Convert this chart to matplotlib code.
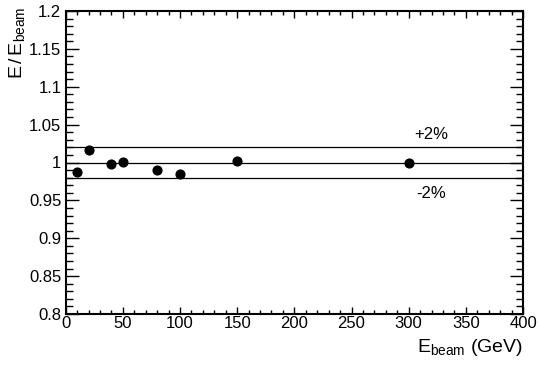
import matplotlib
matplotlib.use("Agg")
import matplotlib.pyplot as plt
from matplotlib.ticker import MultipleLocator, FuncFormatter

plt.rcParams['font.family'] = ['Liberation Sans', 'DejaVu Sans']
plt.rcParams['mathtext.fontset'] = 'custom'
plt.rcParams['mathtext.rm'] = 'Liberation Sans'
plt.rcParams['mathtext.it'] = 'Liberation Sans:italic'

# data
e_beam = [10, 20, 40, 50, 80, 100, 150, 300]
ratio = [0.988, 1.016, 0.9986, 1.0004, 0.9906, 0.9854, 1.0017, 0.9987]
ref_levels = [1.02, 1.0, 0.98]
band_labels = ['+2%', '-2%']
band_label_x = [320, 320]
band_label_y = [1.037, 0.959]

fig = plt.figure(figsize=(5.4, 3.65), dpi=100)
ax = fig.add_axes([65.7/540, 1 - 314/365, (523 - 65.7)/540, (314 - 11)/365])

ax.set_xlim(0, 400)
ax.set_ylim(0.8, 1.2)

for lv in ref_levels:
    ax.plot([0, 400], [lv, lv], color='black', lw=0.9, zorder=2)

ax.plot(e_beam, ratio, 'o', color='black', markersize=6.3, zorder=3)

for t, x, y in zip(band_labels, band_label_x, band_label_y):
    ax.text(x, y, t, ha='center', va='center', fontsize=12)

ax.xaxis.set_major_locator(MultipleLocator(50))
ax.xaxis.set_minor_locator(MultipleLocator(10))
ax.yaxis.set_major_locator(MultipleLocator(0.05))
ax.yaxis.set_minor_locator(MultipleLocator(0.01))
ax.yaxis.set_major_formatter(FuncFormatter(lambda v, p: '%g' % round(v, 3)))
ax.xaxis.set_major_formatter(FuncFormatter(lambda v, p: '%g' % v))

ax.tick_params(axis='both', which='both', direction='in', top=True, right=True,
               labelsize=12, width=1.0, colors='black')
ax.tick_params(axis='x', which='major', length=5, pad=1.5)
ax.tick_params(axis='x', which='minor', length=2.8)
ax.tick_params(axis='y', which='major', length=9.5, pad=3.2)
ax.tick_params(axis='y', which='minor', length=5)

for s in ax.spines.values():
    s.set_linewidth(1.5)

ax.text(1.0, -0.075, r'E$_{\rm beam}$ (GeV)', transform=ax.transAxes,
        ha='right', va='top', fontsize=14)
fig.text(7/540, 1 - 7/365, r'E$\,$/$\,$E$_{\rm beam}$', rotation=90,
         ha='left', va='top', fontsize=14)

fig.savefig('out.png', dpi=100)
